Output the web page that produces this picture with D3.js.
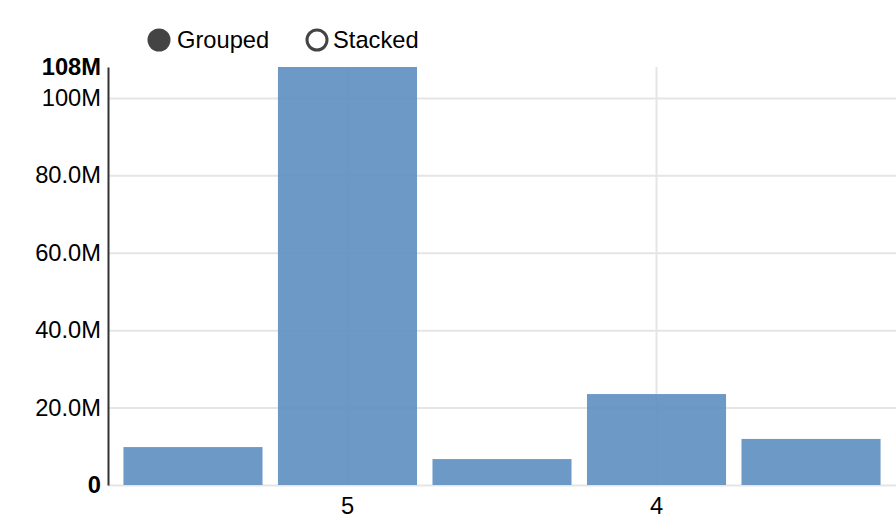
<!DOCTYPE html>
<html>
<head>
<meta charset="utf-8">
<script src="https://cdn.jsdelivr.net/npm/d3@7"></script>
<style>
  body { margin: 0; background: #fff; }
  svg { font-family: "Liberation Sans", Arial, sans-serif; }
  .grid line { stroke: #e5e5e5; stroke-width: 2; }
  .grid path { display: none; }
  text { fill: #000; }
</style>
</head>
<body>
<div id="chart"></div>
<script>
var categories = ['3', '5', '2', '4', '1'];
var values = [9.8e6, 108e6, 6.7e6, 23.5e6, 11.9e6];
var yTicks = [20e6, 40e6, 60e6, 80e6, 100e6];
var yMax = 108e6;
var xTickLabels = ['5', '4'];
var legendItems = ['Grouped', 'Stacked'];

var width = 896, height = 524;
var margin = {top: 67, right: 0, bottom: 39, left: 108};
var fontSize = '23.7px';

var svg = d3.select('#chart').append('svg')
  .attr('width', width)
  .attr('height', height);

var xScale = d3.scaleBand()
  .domain(categories)
  .range([margin.left, width - margin.right])
  .paddingInner(0.1)
  .paddingOuter(0.1);

var yScale = d3.scaleLinear()
  .domain([0, yMax])
  .range([height - margin.bottom, margin.top]);

// horizontal grid
svg.append('g')
  .attr('class', 'grid')
  .attr('transform', 'translate(' + margin.left + ',0)')
  .call(d3.axisLeft(yScale).tickValues([0].concat(yTicks)).tickSize(-(width - margin.left)).tickFormat(''));

// vertical grid
svg.append('g')
  .attr('class', 'grid')
  .attr('transform', 'translate(0,' + (height - margin.bottom) + ')')
  .call(d3.axisBottom(xScale).tickValues(xTickLabels)
    .tickSize(-(height - margin.bottom - margin.top)).tickFormat(''));

// bars
svg.append('g').selectAll('rect').data(values)
  .enter().append('rect')
    .attr('x', function(d, i) { return xScale(categories[i]); })
    .attr('width', xScale.bandwidth())
    .attr('y', function(d) { return yScale(d); })
    .attr('height', function(d) { return yScale(0) - yScale(d); })
    .style('fill', '#5f90c1')
    .style('fill-opacity', 0.92);

// y axis
var yAxis = svg.append('g')
  .attr('transform', 'translate(' + margin.left + ',0)')
  .call(d3.axisLeft(yScale).tickValues(yTicks).tickSize(0).tickPadding(7)
    .tickFormat(function(d) { return d === 100e6 ? '100M' : d3.format('.1f')(d / 1e6) + 'M'; }));
yAxis.select('.domain').attr('stroke', '#333').attr('stroke-width', 2);
yAxis.selectAll('text').style('font-size', fontSize).style('font-family', '"Liberation Sans", Arial, sans-serif');

// min / max labels
var ends = [0, yMax];
svg.append('g').selectAll('text').data(ends)
  .enter().append('text')
    .attr('x', margin.left - 7)
    .attr('y', function(d) { return yScale(d); })
    .attr('dy', '0.32em')
    .attr('text-anchor', 'end')
    .style('font-size', fontSize)
    .style('font-weight', 'bold')
    .text(function(d) { return d === 0 ? '0' : d3.format('.3s')(d); });

// x axis labels
var xAxis = svg.append('g')
  .attr('transform', 'translate(0,' + (height - margin.bottom) + ')')
  .call(d3.axisBottom(xScale).tickValues(xTickLabels).tickSize(0).tickPadding(12));
xAxis.select('.domain').remove();
xAxis.selectAll('text').style('font-size', fontSize).style('font-family', '"Liberation Sans", Arial, sans-serif');

// legend
var legendX = [159, 317];
var legend = svg.append('g').selectAll('g').data(legendItems)
  .enter().append('g')
    .attr('transform', function(d, i) { return 'translate(' + legendX[i] + ',40)'; });
legend.append('circle')
  .attr('r', function(d, i) { return i === 0 ? 11.5 : 10; })
  .style('fill', function(d, i) { return i === 0 ? '#444' : '#fff'; })
  .style('stroke', '#444')
  .style('stroke-width', function(d, i) { return i === 0 ? 0 : 3; });
legend.append('text')
  .attr('x', function(d, i) { return i === 0 ? 18 : 16; })
  .attr('dy', '0.35em')
  .style('font-size', fontSize)
  .text(function(d) { return d; });
</script>
</body>
</html>
